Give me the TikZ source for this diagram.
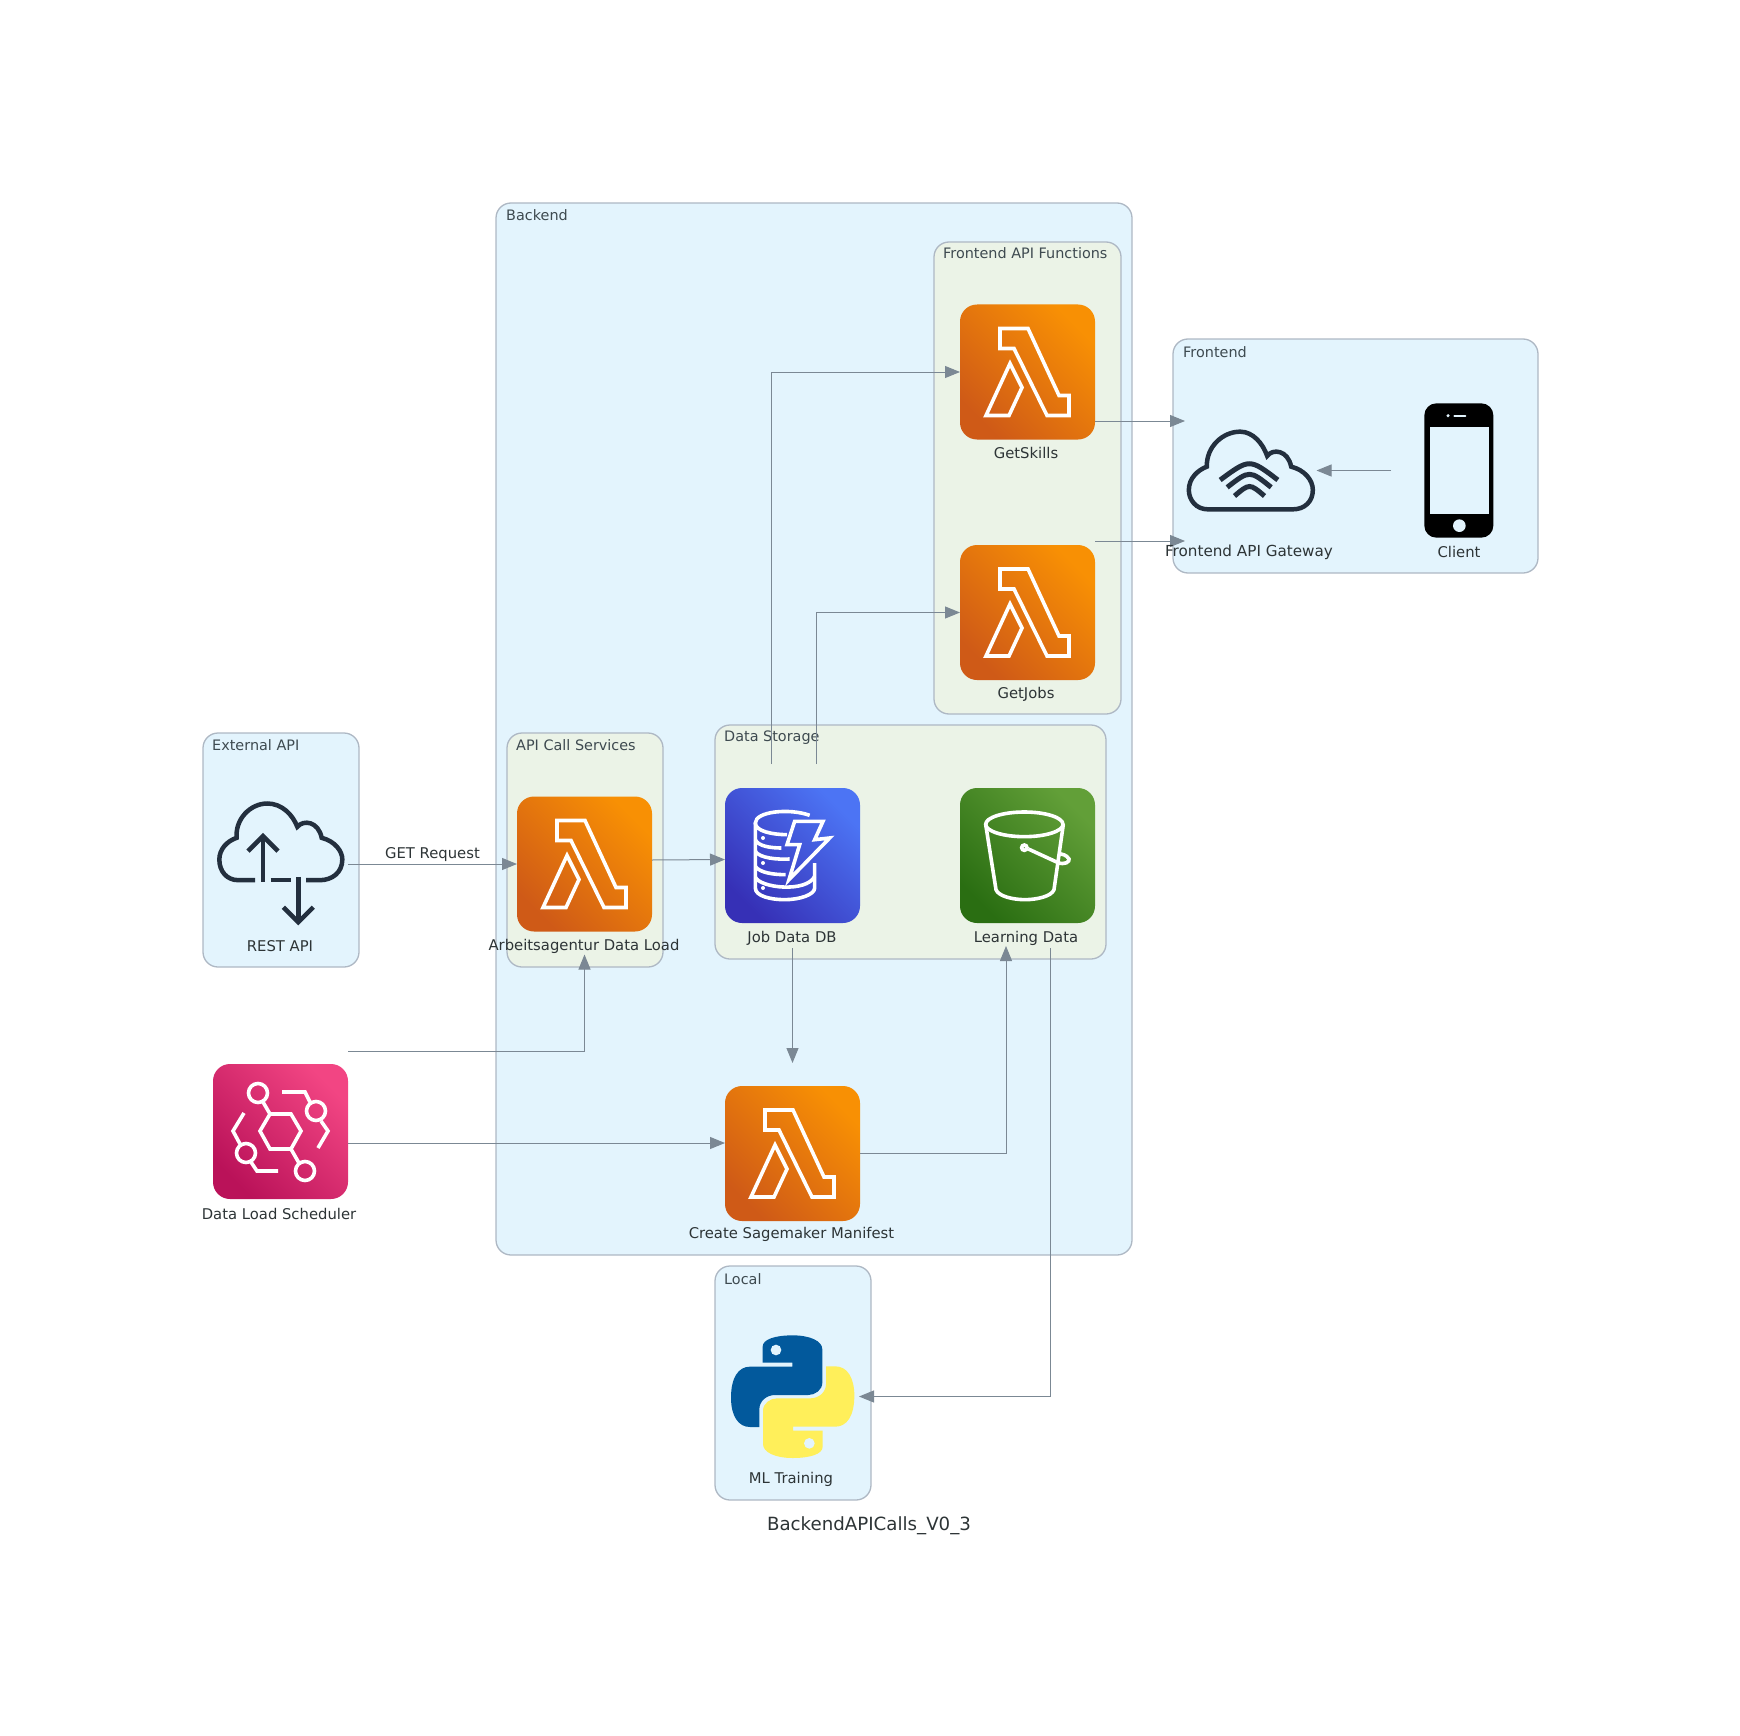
\documentclass[tikz,border=0pt]{standalone}
\usepackage{fontspec}
\setmainfont{DejaVu Sans}
\usetikzlibrary{arrows.meta,calc}
\definecolor{bluebg}{HTML}{E3F4FD}
\definecolor{greenbg}{HTML}{EBF3E7}
\definecolor{clusterline}{HTML}{AEB8C4}
\definecolor{connline}{HTML}{7B8894}
\definecolor{txt}{HTML}{2D3436}
\definecolor{clustertxt}{HTML}{3E4A50}
\definecolor{awsink}{HTML}{232F3E}
\definecolor{lamlow}{HTML}{CF5A17}\definecolor{lamhigh}{HTML}{F89004}
\definecolor{dblow}{HTML}{3630B6}\definecolor{dbhigh}{HTML}{4C74F4}
\definecolor{slow}{HTML}{2A6E12}\definecolor{shigh}{HTML}{629F38}
\definecolor{evlow}{HTML}{BA1259}\definecolor{evhigh}{HTML}{F24583}
\tikzset{
  clusterbox/.style={draw=clusterline,line width=1.3pt,rounded corners=15pt,inner sep=0pt,outer sep=0pt},
  bluecluster/.style={clusterbox,fill=bluebg},
  greencluster/.style={clusterbox,fill=greenbg},
  clustertitle/.style={anchor=west,inner sep=0pt,text=clustertxt,font=\fontsize{14.4}{16}\selectfont},
  iconbox/.style={minimum width=135pt,minimum height=135pt,inner sep=0pt,outer sep=0pt},
  awsicon/.style 2 args={iconbox,rounded corners=17pt,shade,shading=axis,bottom color=#1,top color=#2,middle color=#1!50!#2,shading angle=-45},
  lambdaicon/.style={awsicon={lamlow}{lamhigh}},
  dbicon/.style={awsicon={dblow}{dbhigh}},
  sthreeicon/.style={awsicon={slow}{shigh}},
  evicon/.style={awsicon={evlow}{evhigh}},
  iconlabel/.style={inner sep=0pt,text=txt,font=\fontsize{14.8}{17}\selectfont},
  conn/.style={draw=connline,line width=1pt,-{Triangle[length=15pt,width=12pt]}},
  glyph/.style={draw=white,line width=3.6pt,line join=miter},
  inkglyph/.style={draw=awsink,line width=4.5pt},
}
\newcommand{\lambdaglyph}[1]{%
  \begin{scope}[shift={(#1.north west)}]
    \draw[glyph] (40,24) -- (68,24) -- (99,91) -- (109,91) -- (109,111) -- (87,111) -- (54,44) -- (40,44) -- cycle;
    \draw[glyph] (50,59) -- (62,83) -- (49,111) -- (26,111) -- cycle;
  \end{scope}}
\begin{document}
\begin{tikzpicture}[x=1pt,y=-1pt]
\useasboundingbox (0,0) rectangle (1740,1736);
% clusters
\node[bluecluster,minimum width=636pt,minimum height=1052pt] (backend) at (814,729) {};
\node[greencluster,minimum width=187pt,minimum height=472pt] (fnapi) at (1027.5,478) {};
\node[greencluster,minimum width=391pt,minimum height=234pt] (storage) at (910.5,842) {};
\node[greencluster,minimum width=156pt,minimum height=234pt] (apicall) at (585,850) {};
\node[bluecluster,minimum width=156pt,minimum height=234pt] (extapi) at (281,850) {};
\node[bluecluster,minimum width=365pt,minimum height=234pt] (frontend) at (1355.5,456) {};
\node[bluecluster,minimum width=156pt,minimum height=234pt] (local) at (793,1383) {};
\node[clustertitle] (tbackend) at (506,215) {Backend};
\node[clustertitle] (tfnapi) at (943,253) {Frontend API Functions};
\node[clustertitle] (tstorage) at (724,738) {Data Storage};
\node[clustertitle] (tapicall) at (516,745) {API Call Services};
\node[clustertitle] (textapi) at (212,745) {External API};
\node[clustertitle] (tfrontend) at (1183,352) {Frontend};
\node[clustertitle] (tlocal) at (724,1279) {Local};
% icons
\node[iconbox] (rest) at (280.5,864) {};
\node[lambdaicon] (arb) at (584.5,864) {};
\node[dbicon] (db) at (792.5,855.5) {};
\node[sthreeicon] (learn) at (1027.5,855.5) {};
\node[lambdaicon] (skills) at (1027.5,372) {};
\node[lambdaicon] (jobs) at (1027.5,612.5) {};
\node[lambdaicon] (create) at (792.5,1153.5) {};
\node[evicon] (sched) at (280.5,1131.5) {};
\node[iconbox] (gw) at (1249,470.5) {};
\node[iconbox] (client) at (1458.5,470.5) {};
\node[iconbox] (py) at (791.5,1396.5) {};
\lambdaglyph{arb}\lambdaglyph{skills}\lambdaglyph{jobs}\lambdaglyph{create}
% REST cloud
\begin{scope}[shift={(rest.north west)},scale=1/3,shift={(-99,-231)}]
  \draw[inkglyph] (225,482) -- (175,482) .. controls (140,482) and (118,455) .. (118,420) .. controls (118,390) and (140,365) .. (170,355) .. controls (165,300) and (210,252) .. (262,252) .. controls (305,252) and (338,285) .. (352,322) .. controls (370,300) and (415,305) .. (425,355) .. controls (465,365) and (487,395) .. (487,420) .. controls (487,460) and (455,482) .. (420,482) -- (378,482);
  \draw[inkglyph] (272,482) -- (332,482);
  \draw[inkglyph] (249,487) -- (249,352);
  \draw[inkglyph] (204,395) -- (249,350) -- (294,395);
  \draw[inkglyph] (355,472) -- (355,606);
  \draw[inkglyph] (310,563) -- (355,608) -- (400,563);
\end{scope}
% Wifi cloud
\begin{scope}[shift={(gw.north west)},scale=1/3,shift={(-96,-219)}]
  \draw[inkglyph] (430,538) -- (175,538) .. controls (140,538) and (118,510) .. (118,480) .. controls (118,445) and (145,420) .. (172,410) .. controls (170,350) and (220,305) .. (272,305) .. controls (310,305) and (340,340) .. (353,378) .. controls (370,355) and (415,360) .. (425,410) .. controls (465,420) and (490,450) .. (490,480) .. controls (490,515) and (465,538) .. (430,538) -- cycle;
  \draw[inkglyph,line width=5pt] (212,450) .. controls (300,385) .. (385,450);
  \draw[inkglyph,line width=5pt] (233,472) .. controls (300,420) .. (365,472);
  \draw[inkglyph,line width=5pt] (255,498) .. controls (300,460) .. (345,498);
\end{scope}
% Phone
\begin{scope}[shift={(client.north west)},scale=1/3,shift={(-723,-219)}]
  \fill[black,rounded corners=12pt] (823,220) rectangle (1030,623);
  \fill[bluebg] (840,291) rectangle (1016,553);
  \fill[bluebg] (928,587) circle[radius=19];
  \fill[bluebg] (894,257) circle[radius=5];
  \draw[bluebg,line width=2.2pt,line cap=round] (913,257) -- (946,257);
\end{scope}
% Python
\begin{scope}[shift={(py.north west)},scale=1/3,shift={(-72,-209)}]
  \fill[fill={rgb,255:red,2;green,89;blue,156}] (277,310) -- (188,310) -- (188,262) .. controls (188,240) and (225,228) .. (278,228) .. controls (330,228) and (367,245) .. (367,270) -- (367,370) .. controls (367,392) and (345,407) .. (325,407) -- (225,407) .. controls (200,407) and (178,425) .. (178,450) -- (178,503) -- (150,503) .. controls (115,503) and (93,470) .. (93,415) .. controls (93,355) and (115,322) .. (150,322) -- (277,322) -- cycle;
  \fill[bluebg] (228,272) circle[radius=16];
  \fill[fill={rgb,255:red,255;green,239;blue,90}] (279,514) -- (368,514) -- (368,562) .. controls (368,584) and (331,596) .. (278,596) .. controls (226,596) and (189,579) .. (189,554) -- (189,454) .. controls (189,432) and (211,417) .. (231,417) -- (331,417) .. controls (356,417) and (378,399) .. (378,374) -- (378,321) -- (406,321) .. controls (441,321) and (463,354) .. (463,409) .. controls (463,469) and (441,502) .. (406,502) -- (279,502) -- cycle;
  \fill[bluebg] (328,552) circle[radius=16];
\end{scope}
% EventBridge
\begin{scope}[shift={(sched.north west)}]
  \draw[glyph] (78,50) -- (88,67) -- (78,85) -- (57,85) -- (47,67) -- (57,50) -- cycle;
  \draw[glyph] (45,29) circle[radius=9.5];
  \draw[glyph] (103,47) circle[radius=9.5];
  \draw[glyph] (33,89) circle[radius=9.5];
  \draw[glyph] (92,107) circle[radius=9.5];
  \draw[glyph] (50,38) -- (57,50);
  \draw[glyph] (78,85) -- (86,99);
  \draw[glyph] (69,28) -- (92,28) -- (97,38);
  \draw[glyph] (108,57) -- (115,67) -- (105,84);
  \draw[glyph] (31,49) -- (20,67) -- (27,80);
  \draw[glyph] (38,98) -- (44,107) -- (65,107);
\end{scope}
% DynamoDB
\begin{scope}[shift={(db.north west)},scale=1/3,shift={(-76,-85)}]
  \draw[glyph] (330,167) .. controls (270,145) and (167,155) .. (167,190) .. controls (167,215) and (220,225) .. (262,225);
  \draw[glyph] (167,190) -- (167,385) .. controls (167,410) and (215,420) .. (255,420) .. controls (300,420) and (345,405) .. (345,385) -- (345,310);
  \draw[glyph] (167,240) .. controls (175,260) and (215,265) .. (245,265);
  \draw[glyph] (167,275) .. controls (180,296) and (235,300) .. (270,298);
  \draw[glyph] (167,320) .. controls (180,340) and (225,345) .. (258,345);
  \draw[glyph] (167,352) .. controls (180,385) and (320,400) .. (345,350);
  \draw[glyph] (285,185) -- (370,185) -- (345,240) -- (390,235) -- (268,360) -- (300,255) -- (262,255) -- cycle;
  \fill[white] (190,235) circle[radius=6];
  \fill[white] (190,310) circle[radius=6];
  \fill[white] (190,385) circle[radius=6];
\end{scope}
% S3
\begin{scope}[shift={(learn.north west)},scale=1/3,shift={(-780,-85)}]
  \draw[glyph] (973,194) ellipse[x radius=116,y radius=37];
  \draw[glyph] (857,194) -- (888,390) .. controls (895,410) and (940,420) .. (975,420) .. controls (1010,420) and (1055,410) .. (1062,390) -- (1090,194);
  \draw[glyph] (973,264) circle[radius=8];
  \draw[glyph] (985,268) -- (1072,308) .. controls (1095,318) and (1110,305) .. (1107,298) .. controls (1100,285) and (1085,283) .. (1075,282);
\end{scope}
% connectors
\draw[conn] (rest.east) -- node[iconlabel,above=2pt,pos=.5] (getlabel) {GET Request} (arb.west);
\draw[conn] ([yshift=4pt]arb.east) -- ([yshift=-4pt]db.west);
\draw[conn] ([yshift=80.5pt]sched.east) -| ([yshift=-23pt]arb.south);
\draw[conn] ([yshift=-11.5pt]sched.east) -- ([yshift=10.5pt]create.west);
\draw[conn] ([xshift=-21.5pt,yshift=24pt]db.north) |- (skills.west);
\draw[conn] ([xshift=23.5pt,yshift=24pt]db.north) |- (jobs.west);
\draw[conn] ([yshift=-25pt]db.south) -- ([yshift=23pt]create.north);
\draw[conn] (create.east) -| ([xshift=-21.5pt,yshift=-23pt]learn.south);
\draw[conn] ([xshift=23pt,yshift=-25pt]learn.south) |- (py.east);
\draw[conn] ([yshift=-49pt]skills.east) -- ([xshift=3.5pt,yshift=49.5pt]gw.west);
\draw[conn] ([yshift=71.5pt]jobs.east) -- ([xshift=3.5pt,yshift=-70.5pt]gw.west);
\draw[conn] (client.west) -- (gw.east);
% labels
\node[iconlabel] (lrest) at (280,946) {REST API};
\node[iconlabel] (larb) at (584,946) {Arbeitsagentur Data Load};
\node[iconlabel] (lsched) at (279,1213.5) {Data Load Scheduler};
\node[iconlabel] (ldb) at (792,938) {Job Data DB};
\node[iconlabel] (llearn) at (1026,938) {Learning Data};
\node[iconlabel] (lskills) at (1026,453) {GetSkills};
\node[iconlabel] (ljobs) at (1026,694) {GetJobs};
\node[iconlabel] (lcreate) at (791.5,1234) {Create Sagemaker Manifest};
\node[iconlabel,font=\fontsize{15.2}{17}\selectfont] (lgw) at (1249,552) {Frontend API Gateway};
\node[iconlabel] (lclient) at (1459,551.5) {Client};
\node[iconlabel] (lpy) at (791,1479) {ML Training};
\node[iconlabel,font=\fontsize{18.2}{21}\selectfont] (title) at (869,1526) {BackendAPICalls\_V0\_3};
\end{tikzpicture}
\end{document}
